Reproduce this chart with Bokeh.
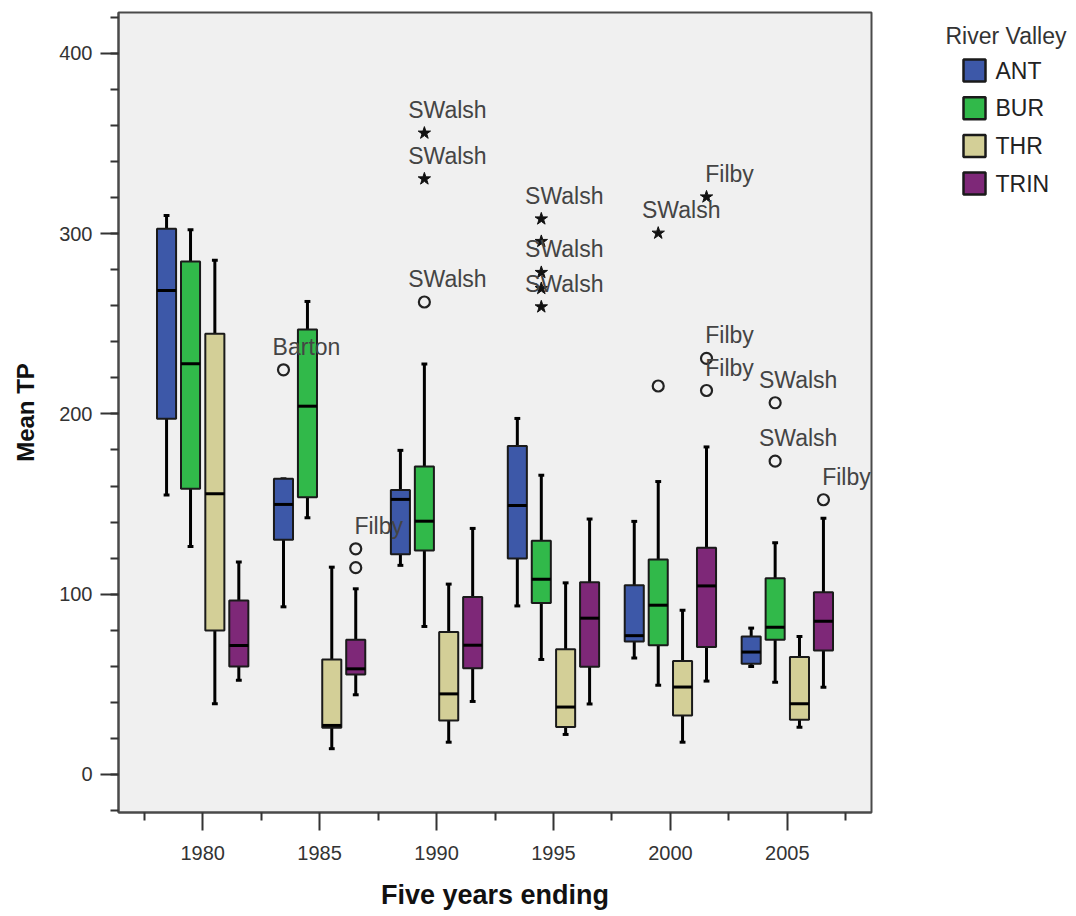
from bokeh.plotting import figure
from bokeh.models import ColumnDataSource, FixedTicker, Range1d
from bokeh.layouts import row
from bokeh.core.properties import value
from bokeh.embed import file_html
from bokeh.resources import INLINE

# ---------------- data ----------------
years = ["1980", "1985", "1990", "1995", "2000", "2005"]
valleys = ["ANT", "BUR", "THR", "TRIN"]
colors = ["#3D58A8", "#31B94A", "#D3CF97", "#7E2878"]
legend_title = "River Valley"

ant_lo = [155.0, 93.0, 116.0, 93.5, 64.6, 59.9]
ant_q1 = [197.3, 130.2, 122.2, 119.8, 73.8, 61.4]
ant_med = [268.5, 149.8, 152.6, 149.2, 77.0, 67.9]
ant_q3 = [302.8, 164.0, 157.8, 182.2, 105.0, 76.6]
ant_hi = [310.1, 164.0, 179.8, 197.5, 140.4, 81.2]

bur_lo = [126.5, 142.4, 82.1, 63.8, 49.5, 51.2]
bur_q1 = [158.5, 153.8, 124.3, 95.1, 71.7, 74.7]
bur_med = [227.8, 204.3, 140.5, 108.3, 93.9, 81.7]
bur_q3 = [284.6, 246.9, 170.9, 129.6, 119.3, 108.9]
bur_hi = [302.2, 262.4, 227.7, 166.0, 162.5, 128.5]

thr_lo = [39.2, 14.3, 17.9, 22.2, 17.9, 26.2]
thr_q1 = [79.9, 25.9, 30.0, 26.3, 32.7, 30.3]
thr_med = [155.7, 27.2, 44.7, 37.4, 48.5, 39.2]
thr_q3 = [244.5, 63.8, 79.0, 69.5, 62.9, 65.1]
thr_hi = [285.2, 115.0, 105.6, 106.3, 91.1, 76.6]

trin_lo = [52.2, 44.2, 40.5, 39.1, 51.8, 48.4]
trin_q1 = [59.9, 55.5, 58.9, 59.7, 70.7, 68.8]
trin_med = [71.6, 58.6, 71.7, 86.7, 104.6, 85.0]
trin_q3 = [96.5, 74.7, 98.5, 106.7, 125.8, 101.1]
trin_hi = [117.8, 103.0, 136.5, 141.7, 181.7, 142.2]

# outliers: year, valley, value, kind, label
out_year = ["1985", "1985", "1985", "1990", "1990", "1990",
            "1995", "1995", "1995", "1995", "1995",
            "2000", "2000", "2000", "2000", "2000",
            "2005", "2005", "2005"]
out_valley = ["ANT", "TRIN", "TRIN", "BUR", "BUR", "BUR",
              "BUR", "BUR", "BUR", "BUR", "BUR",
              "BUR", "BUR", "TRIN", "TRIN", "TRIN",
              "BUR", "BUR", "TRIN"]
out_value = [224.5, 125.2, 114.7, 355.8, 330.4, 262.1,
             308.2, 295.7, 278.5, 269.6, 259.4,
             300.3, 215.5, 320.4, 230.8, 213.0,
             206.2, 173.8, 152.4]
out_kind = ["circle", "circle", "circle", "star", "star", "circle",
            "star", "star", "star", "star", "star",
            "star", "circle", "star", "circle", "circle",
            "circle", "circle", "circle"]
out_label = ["Barton", "Filby", "", "SWalsh", "SWalsh", "SWalsh",
             "SWalsh", "", "SWalsh", "", "SWalsh",
             "SWalsh", "", "Filby", "Filby", "Filby",
             "SWalsh", "SWalsh", "Filby"]

series = {
    "ANT": (ant_lo, ant_q1, ant_med, ant_q3, ant_hi),
    "BUR": (bur_lo, bur_q1, bur_med, bur_q3, bur_hi),
    "THR": (thr_lo, thr_q1, thr_med, thr_q3, thr_hi),
    "TRIN": (trin_lo, trin_q1, trin_med, trin_q3, trin_hi),
}

# ---------------- layout constants ----------------
offsets = {"ANT": -0.309, "BUR": -0.104, "THR": 0.104, "TRIN": 0.309}
box_w = 0.163
cap_w = 0.05
FONT = "Liberation Sans"
MAIN_W = 880

p = figure(width=MAIN_W, height=916,
           x_range=Range1d(-0.72, 5.72), y_range=Range1d(-21.1, 422.7),
           output_backend="svg", toolbar_location=None,
           min_border_left=118, min_border_right=9,
           min_border_top=12, min_border_bottom=104)
p.background_fill_color = "#F0F0F0"
p.border_fill_color = "white"
p.outline_line_color = "#4a4a4a"
p.outline_line_width = 2
p.xgrid.visible = False
p.ygrid.visible = False

for vi, v in enumerate(valleys):
    lo, q1, med, q3, hi = series[v]
    xs = [i + offsets[v] for i in range(len(years))]
    src = ColumnDataSource(dict(x=xs, lo=lo, q1=q1, med=med, q3=q3, hi=hi,
                                xl=[x - box_w / 2 for x in xs], xr=[x + box_w / 2 for x in xs],
                                cl=[x - cap_w / 2 for x in xs], cr=[x + cap_w / 2 for x in xs]))
    p.segment(x0="x", y0="q3", x1="x", y1="hi", source=src, line_color="black", line_width=3)
    p.segment(x0="x", y0="q1", x1="x", y1="lo", source=src, line_color="black", line_width=3)
    p.segment(x0="cl", y0="hi", x1="cr", y1="hi", source=src, line_color="black", line_width=3)
    p.segment(x0="cl", y0="lo", x1="cr", y1="lo", source=src, line_color="black", line_width=3)
    p.vbar(x="x", width=box_w, bottom="q1", top="q3", source=src,
           fill_color=colors[vi], line_color="#1a1a1a", line_width=2)
    p.segment(x0="xl", y0="med", x1="xr", y1="med", source=src, line_color="black", line_width=3)

ox = [years.index(y) + offsets[v] for y, v in zip(out_year, out_valley)]
osrc = ColumnDataSource(dict(x=ox, y=out_value, label=out_label))
circ = ColumnDataSource(dict(x=[x for x, k in zip(ox, out_kind) if k == "circle"],
                             y=[y for y, k in zip(out_value, out_kind) if k == "circle"]))
star = ColumnDataSource(dict(x=[x for x, k in zip(ox, out_kind) if k == "star"],
                             y=[y for y, k in zip(out_value, out_kind) if k == "star"]))
p.scatter(x="x", y="y", source=circ, marker="circle", size=11,
          fill_color=None, line_color="#222222", line_width=2.2)
p.scatter(x="x", y="y", source=star, marker="star", size=13,
          fill_color="#111111", line_color="#111111", line_width=1)
p.text(x="x", y="y", text="label", source=osrc, x_offset=23, y_offset=-23,
       text_align="center", text_baseline="middle", text_font=value(FONT),
       text_font_size="23px", text_color="#444444")

# axes
xa = p.xaxis[0]
xa.ticker = FixedTicker(ticks=list(range(len(years))),
                        minor_ticks=[i - 0.5 for i in range(len(years) + 1)])
xa.major_label_overrides = {i: y for i, y in enumerate(years)}
xa.axis_label = "Five years ending"
ya = p.yaxis[0]
ya.ticker = FixedTicker(ticks=[0, 100, 200, 300, 400],
                        minor_ticks=list(range(-20, 421, 20)))
ya.axis_label = "Mean TP"
for ax in (xa, ya):
    ax.axis_line_color = "#4a4a4a"
    ax.axis_line_width = 2
    ax.major_tick_line_color = "#333333"
    ax.major_tick_line_width = 2
    ax.minor_tick_line_color = "#333333"
    ax.minor_tick_line_width = 2
    ax.major_tick_in = 0
    ax.minor_tick_in = 0
    ax.major_tick_out = 18
    ax.minor_tick_out = 8
    ax.major_label_text_font = FONT
    ax.major_label_text_font_size = "20px"
    ax.major_label_text_color = "#333333"
    ax.axis_label_text_font = FONT
    ax.axis_label_text_font_style = "bold"
    ax.axis_label_text_color = "#111111"
xa.axis_label_text_font_size = "27px"
ya.axis_label_text_font_size = "24px"
xa.major_label_standoff = 15
xa.axis_label_standoff = 17
ya.major_label_standoff = 8
ya.axis_label_standoff = 17

# ---------------- legend panel ----------------
LW = 1076 - MAIN_W
lg = figure(width=LW, height=916, x_range=Range1d(0, LW), y_range=Range1d(812, 12),
            output_backend="svg", toolbar_location=None,
            x_axis_type=None, y_axis_type=None,
            min_border_left=0, min_border_right=0, min_border_top=12, min_border_bottom=104)
lg.outline_line_color = None
lg.background_fill_color = "white"
lg.border_fill_color = "white"
lg.xgrid.visible = False
lg.ygrid.visible = False

pitch = 37.7
lsrc = ColumnDataSource(dict(
    x=[94] * len(valleys),
    tx=[115] * len(valleys),
    y=[70 + pitch * i for i in range(len(valleys))],
    color=colors, label=valleys))
lg.rect(x="x", y="y", width=22, height=22, source=lsrc, fill_color="color",
        line_color="#1a1a1a", line_width=2.5)
lg.text(x="tx", y="y", text="label", source=lsrc, text_font=value(FONT),
        text_font_size="23px", text_color="#222222", text_baseline="middle",
        text_align="left")
lg.text(x=[65], y=[35], text=[legend_title], text_font=value(FONT),
        text_font_size="23px", text_color="#333333", text_baseline="middle",
        text_align="left")

layout = row(p, lg, spacing=0)
open("out.html", "w").write(file_html(layout, INLINE))
